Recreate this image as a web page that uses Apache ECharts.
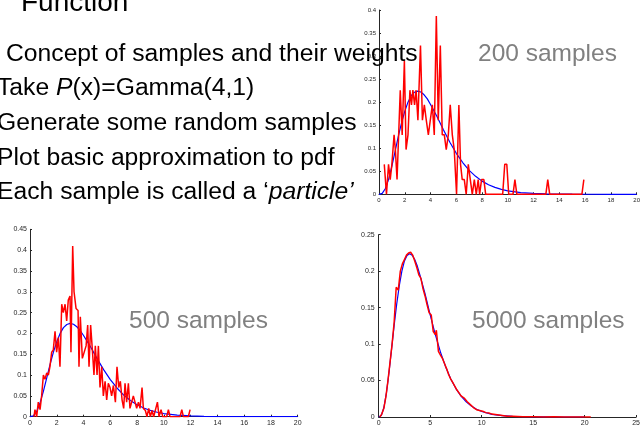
<!DOCTYPE html>
<html>
<head>
<meta charset="utf-8">
<script src="https://cdn.jsdelivr.net/npm/echarts@6/dist/echarts.min.js"></script>
<style>html,body{margin:0;padding:0;background:#fff;}#c{width:643px;height:428px;}</style>
</head>
<body>
<div id="c"></div>
<script>
// Smooth reference curve (Gamma(4,1) density)
const pdfX = [0,0.25,0.5,0.75,1,1.25,1.5,1.75,2,2.25,2.5,2.75,3,3.25,3.5,3.75,4,4.5,5,5.5,6,6.5,7,7.5,8,8.5,9,9.5,10,11,12,13,14,15,16,18,20];
const pdfY = [0,0.002,0.0126,0.033,0.061,0.093,0.1255,0.155,0.180,0.200,0.214,0.2215,0.224,0.222,0.216,0.207,0.195,0.169,0.140,0.113,0.089,0.069,0.052,0.039,0.0286,0.0208,0.015,0.0107,0.0076,0.0037,0.0018,0.0008,0.0004,0.0002,0.0001,0,0];

// 200 samples histogram estimate
const r200X = [0.41,0.58,0.74,0.87,1.0,1.17,1.27,1.4,1.65,1.8,1.97,2.1,2.25,2.4,2.52,2.63,2.76,2.88,3.02,3.22,3.37,3.52,3.67,3.83,3.98,4.14,4.29,4.45,4.6,4.76,4.91,5.07,5.22,5.38,5.53,5.69,5.84,6.02,6.2,6.33,6.46,6.62,6.77,6.93,7.08,7.24,7.4,7.55,7.7,7.81,7.96,8.14,8.28,9.6,9.76,9.92,10.07,10.4,10.55,10.7,12.95,13.1,13.25,15.75,15.9];
const r200Y = [0.065,0,0.065,0.032,0.065,0.129,0.097,0.032,0.226,0.129,0.29,0.097,0.129,0.226,0.194,0.226,0.194,0.226,0.161,0.323,0.161,0.194,0.161,0.129,0.129,0.194,0.129,0.387,0.161,0.323,0.129,0.129,0.097,0.129,0.194,0.129,0.097,0,0.194,0.065,0.032,0.032,0,0.065,0.065,0,0.032,0,0.032,0,0.032,0.032,0,0,0.065,0.065,0,0,0.032,0,0,0.032,0,0,0.032];

// 500 samples histogram estimate
const r500X = [0.3,0.37,0.5,0.62,0.75,0.87,1.0,1.12,1.25,1.37,1.49,1.62,1.74,1.87,1.99,2.12,2.24,2.37,2.49,2.62,2.74,2.86,2.99,3.06,3.19,3.29,3.44,3.59,3.66,3.76,3.91,4.04,4.19,4.31,4.41,4.53,4.66,4.78,4.88,5.01,5.11,5.23,5.36,5.48,5.61,5.73,5.85,5.98,6.1,6.23,6.38,6.5,6.63,6.75,6.88,7.0,7.1,7.22,7.35,7.47,7.6,7.72,7.85,7.97,8.1,8.22,8.37,8.47,8.62,8.74,8.87,8.99,9.12,9.24,9.37,9.52,9.64,9.79,9.92,10.21,10.34,10.46,11.21,11.34,11.46,11.83,11.96];
const r500Y = [0,0.017,0,0.035,0.017,0.05,0.10,0.09,0.105,0.10,0.12,0.155,0.16,0.205,0.155,0.19,0.12,0.27,0.25,0.27,0.23,0.28,0.29,0.155,0.41,0.30,0.26,0.255,0.12,0.24,0.14,0.14,0.17,0.22,0.12,0.22,0.16,0.10,0.17,0.10,0.17,0.07,0.12,0.05,0.085,0.04,0.08,0.07,0.05,0.075,0.035,0.12,0.07,0.085,0.04,0.02,0.08,0.035,0.08,0.02,0.02,0.05,0.05,0.02,0.035,0.02,0.07,0.02,0.015,0,0.02,0,0.015,0,0,0.035,0,0.017,0,0,0.017,0,0,0.017,0,0,0.017];

// 5000 samples histogram estimate
const r5000X = [0.1,0.3,0.5,0.7,0.9,1.1,1.3,1.5,1.7,1.9,2.1,2.3,2.5,2.7,2.9,3.1,3.3,3.5,3.7,3.9,4.1,4.3,4.5,4.7,4.9,5.1,5.3,5.5,5.6,5.8,6.0,6.2,6.4,6.6,6.8,7.0,7.2,7.4,7.6,7.8,8.0,8.3,8.6,8.9,9.2,9.5,9.8,10.1,10.4,10.7,11.0,11.5,12.0,12.5,13,14,15,16,17,18,19,20,20.6];
const r5000Y = [0,0.004,0.012,0.028,0.05,0.075,0.1,0.13,0.178,0.174,0.2,0.21,0.216,0.222,0.225,0.226,0.222,0.214,0.205,0.195,0.19,0.176,0.166,0.154,0.143,0.14,0.117,0.113,0.119,0.09,0.085,0.08,0.073,0.066,0.058,0.052,0.047,0.042,0.037,0.033,0.029,0.026,0.021,0.017,0.013,0.01,0.009,0.008,0.006,0.0055,0.004,0.003,0.002,0.001,0.001,0.0005,0.0003,0,0.0002,0,0,0,0];

// Slide text
const titleText = 'Function';
const bulletMain = 'Concept of samples and their weights';
const subBullets = ['Take {i|P}(x)=Gamma(4,1)', 'Generate some random samples', 'Plot basic approximation to pdf', 'Each sample is called a \u2018{i|particle\u2019}'];
const sampleLabels = ['200 samples', '500 samples', '5000 samples'];

function zip(xs, ys) { return xs.map((x, i) => [x, ys[i]]); }

const FONT = 'Liberation Sans, Arial, sans-serif';
const axisCol = '#262626';
const BODY = 24.7;

function xAxis(gi, max, interval, fs) {
  return {
    type: 'value', gridIndex: gi, min: 0, max: max, interval: interval,
    axisLine: {show: true, onZero: false, lineStyle: {color: axisCol, width: 1}},
    axisTick: {show: true, inside: true, length: 2, lineStyle: {color: axisCol}},
    splitLine: {show: false},
    axisLabel: {fontSize: fs, color: axisCol, margin: 3, fontFamily: FONT, showMaxLabel: true, showMinLabel: true}
  };
}
function yAxis(gi, max, fs, margin) {
  return {
    type: 'value', gridIndex: gi, min: 0, max: max, interval: 0.05,
    axisLine: {show: true, onZero: false, lineStyle: {color: axisCol, width: 1}},
    axisTick: {show: true, inside: true, length: 2, lineStyle: {color: axisCol}},
    splitLine: {show: false},
    axisLabel: {fontSize: fs, color: axisCol, margin: margin, fontFamily: FONT, showMaxLabel: true, showMinLabel: true}
  };
}
function line(gi, data, color, w, z) {
  return {type: 'line', xAxisIndex: gi, yAxisIndex: gi, data: data, showSymbol: false, symbol: 'none',
    lineStyle: {color: color, width: w}, z: z, animation: false, clip: true};
}

const chart = echarts.init(document.getElementById('c'), null, {renderer: 'canvas'});

const textEls = [];
textEls.push({type: 'text', x: 21, y: 3, z: 100, style: {text: titleText, fontSize: 28, fontFamily: FONT, fill: '#000', verticalAlign: 'middle'}});
textEls.push({type: 'text', x: 6, y: 54.5, z: 100, style: {text: bulletMain, fontSize: BODY, fontFamily: FONT, fill: '#000', verticalAlign: 'middle'}});
const subBase = [88.5, 123.5, 158, 192.5];
subBullets.forEach((t, i) => {
  textEls.push({type: 'text', x: -3, y: subBase[i], z: 100, style: {text: t, fontSize: BODY, fontFamily: FONT, fill: '#000', verticalAlign: 'middle',
    rich: {i: {fontStyle: 'italic', fontSize: BODY, fontFamily: FONT, fill: '#000'}}}});
});
const labelPos = [[478, 54], [129, 321], [472, 321.5]];
sampleLabels.forEach((t, i) => {
  textEls.push({type: 'text', x: labelPos[i][0], y: labelPos[i][1], z: 100, style: {text: t, fontSize: 24.5, fontFamily: FONT, fill: '#808080', verticalAlign: 'middle'}});
});

chart.setOption({
  animation: false,
  backgroundColor: '#fff',
  grid: [
    {left: 379, top: 10, width: 263, height: 184.3},
    {left: 30, top: 229.3, width: 267.7, height: 187.4},
    {left: 378.7, top: 234.7, width: 264.3, height: 182.3}
  ],
  xAxis: [xAxis(0, 20, 2, 6), xAxis(1, 20, 2, 7), xAxis(2, 25, 5, 7)],
  yAxis: [yAxis(0, 0.4, 6, 3), yAxis(1, 0.45, 7, 3), yAxis(2, 0.25, 7, 4)],
  series: [
    line(0, zip(pdfX, pdfY), '#0000ff', 1.2, 2),
    line(0, zip(r200X, r200Y), '#ff0000', 1.5, 3),
    line(1, zip(pdfX, pdfY), '#0000ff', 1.2, 2),
    line(1, zip(r500X, r500Y), '#ff0000', 1.5, 3),
    line(2, zip(pdfX, pdfY), '#0000ff', 1.2, 2),
    line(2, zip(r5000X, r5000Y), '#ff0000', 1.5, 3)
  ],
  graphic: {elements: textEls}
});
</script>
</body>
</html>
